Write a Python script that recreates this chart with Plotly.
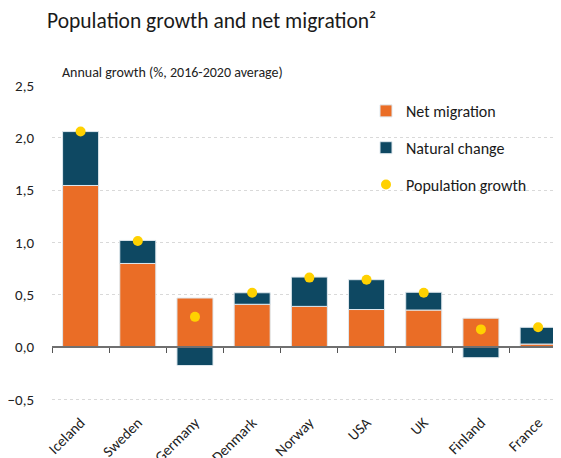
import plotly.graph_objects as go

countries = ["Iceland", "Sweden", "Germany", "Denmark", "Norway", "USA", "UK", "Finland", "France"]
net_migration = [1.545, 0.80, 0.47, 0.41, 0.39, 0.36, 0.355, 0.277, 0.03]
natural_change = [0.515, 0.22, -0.175, 0.11, 0.28, 0.285, 0.17, -0.10, 0.16]
population_growth = [2.06, 1.015, 0.29, 0.52, 0.665, 0.645, 0.52, 0.17, 0.19]
y_ticks = [-0.5, 0.0, 0.5, 1.0, 1.5, 2.0, 2.5]

ORANGE = "#EA6D26"
TEAL = "#0E4862"
YELLOW = "#FFD100"
FONT = "Carlito, Lato, sans-serif"

# page body has an 8px margin, so the figure is a little smaller than the window
W, H = 553, 450
y_range = [-0.6, 2.505]
zero_pos = (0 - y_range[0]) / (y_range[1] - y_range[0])

fig = go.Figure()

fig.add_trace(
    go.Bar(
        x=list(range(len(countries))),
        y=net_migration,
        name="Net migration",
        legendgroup="a",
        marker=dict(color=ORANGE, line=dict(color="#dfe8ee", width=1)),
    )
)
fig.add_trace(
    go.Bar(
        x=list(range(len(countries))),
        y=natural_change,
        name="Natural change",
        legendgroup="b",
        marker=dict(color=TEAL, line=dict(color="#dfe8ee", width=1)),
    )
)
fig.add_trace(
    go.Scatter(
        x=list(range(len(countries))),
        y=population_growth,
        mode="markers",
        name="Population growth",
        legendgroup="c",
        marker=dict(color=YELLOW, size=10),
    )
)

# Axis line with boundary ticks sitting on y = 0
boundaries = [i - 0.5 for i in range(len(countries))]

fig.update_layout(
    width=W,
    height=H,
    barmode="relative",
    bargap=0.37,
    plot_bgcolor="white",
    paper_bgcolor="white",
    font=dict(family=FONT, color="#222222"),
    separators=",.",
    margin=dict(l=44, r=0, t=77, b=48, autoexpand=False),
    title=dict(
        text="Population growth and net migration²",
        x=39 / W,
        xanchor="left",
        y=1 - 12 / H,
        yanchor="middle",
        font=dict(size=21.5, color="#1a1a1a", family=FONT),
    ),
    xaxis=dict(
        range=[-0.5, 8.4],
        tickvals=list(range(len(countries))),
        ticktext=countries,
        tickangle=-45,
        tickfont=dict(size=15, color="#222222"),
        showgrid=False,
        zeroline=False,
        showline=False,
        ticks="",
        automargin=False,
    ),
    xaxis2=dict(
        overlaying="x",
        anchor="free",
        position=zero_pos,
        range=[-0.5, 8.4],
        tickvals=boundaries,
        ticks="outside",
        ticklen=5,
        tickcolor="#555555",
        showticklabels=False,
        showline=True,
        linecolor="#707070",
        linewidth=1.5,
        showgrid=False,
        zeroline=False,
    ),
    yaxis=dict(
        range=y_range,
        tickvals=y_ticks,
        tickformat=".1f",
        tickfont=dict(size=15, color="#222222"),
        showgrid=True,
        gridcolor="#d9d9d9",
        griddash="dot",
        zeroline=False,
        ticklabelstandoff=17,
        automargin=False,
    ),
    legend=dict(
        x=358 / W,
        y=1 - 86 / H,
        xref="container",
        yref="container",
        xanchor="left",
        yanchor="top",
        traceorder="grouped",
        tracegroupgap=13,
        font=dict(size=16, color="#1a1a1a"),
        itemwidth=30,
        bgcolor="rgba(0,0,0,0)",
    ),
    annotations=[
        dict(
            text="Annual growth (%, 2016-2020 average)",
            xref="paper",
            yref="paper",
            x=8 / (W - 44),
            y=1,
            yshift=13,
            xanchor="left",
            yanchor="middle",
            showarrow=False,
            font=dict(size=14, color="#222222"),
        )
    ],
)

# Dummy trace so the overlay axis is drawn
fig.add_trace(
    go.Scatter(x=[-0.5], y=[0], xaxis="x2", mode="markers", marker=dict(opacity=0), showlegend=False, hoverinfo="skip")
)

fig.write_html("out.html")
